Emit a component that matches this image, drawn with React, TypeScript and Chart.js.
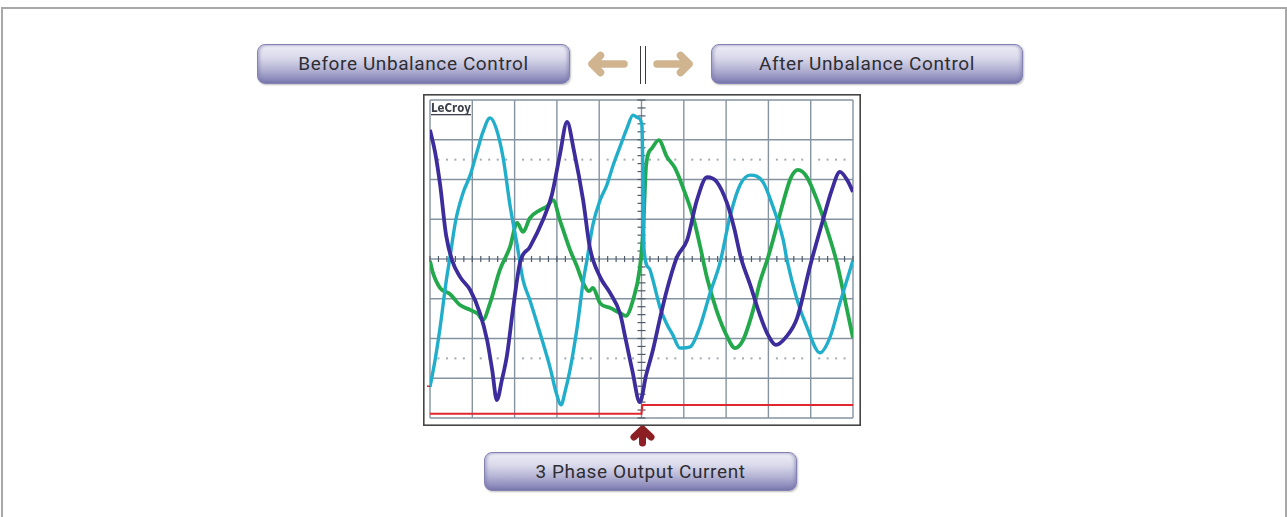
import React, { useEffect, useRef } from "react";
import { Chart, registerables } from "chart.js";

Chart.register(...registerables);

// x: time in scope divisions (0..10), y: amplitude in divisions (-4..4)
const PHASE_A: [number, number][] = [
  [0.0, 3.25], [0.12, 2.69], [0.24, 1.86], [0.38, 0.6], [0.52, -0.03], [0.71, -0.45],
  [0.95, -0.78], [1.18, -1.36], [1.35, -2.04], [1.47, -2.79], [1.58, -3.55], [1.7, -3.04],
  [1.82, -2.42], [1.96, -1.28], [2.13, -0.08], [2.36, 0.3], [2.67, 0.98], [2.88, 1.61],
  [3.07, 2.62], [3.24, 3.45], [3.4, 2.74], [3.62, 1.48], [3.78, 0.28], [4.02, -0.45],
  [4.26, -0.86], [4.49, -1.36], [4.63, -2.04], [4.78, -2.79], [4.96, -3.6], [5.11, -2.92],
  [5.27, -2.29], [5.44, -1.48], [5.6, -0.78], [5.84, 0.05], [6.08, 0.48], [6.31, 1.48],
  [6.55, 2.06], [6.78, 1.94], [7.02, 1.41], [7.19, 0.78], [7.35, 0.03], [7.57, -0.65],
  [7.8, -1.41], [7.99, -1.91], [8.18, -2.16], [8.42, -1.96], [8.68, -1.48], [8.98, -0.2],
  [9.29, 0.98], [9.5, 1.74], [9.69, 2.19], [9.86, 1.99], [10.0, 1.69],
];

const PHASE_B: [number, number][] = [
  [0.0, -3.22], [0.12, -2.54], [0.24, -1.71], [0.38, -0.58], [0.47, 0.03], [0.61, 0.98],
  [0.78, 1.66], [0.95, 2.11], [1.11, 2.69], [1.25, 3.19], [1.42, 3.55], [1.56, 3.3],
  [1.73, 2.54], [1.89, 1.36], [2.06, 0.35], [2.2, -0.53], [2.36, -1.03], [2.6, -1.86],
  [2.84, -2.74], [2.98, -3.35], [3.1, -3.67], [3.19, -3.35], [3.31, -2.79], [3.48, -1.71],
  [3.62, -0.58], [3.71, -0.03], [3.85, 0.86], [4.02, 1.48], [4.18, 1.86], [4.33, 2.36],
  [4.49, 2.82], [4.66, 3.3], [4.8, 3.62], [4.92, 3.55], [5.01, 3.37], [5.04, 1.74],
  [5.06, 0.23], [5.18, -0.23], [5.27, -0.53], [5.44, -1.23], [5.6, -1.64], [5.74, -1.91],
  [5.91, -2.24], [6.15, -2.21], [6.38, -1.71], [6.62, -0.86], [6.86, -0.08], [7.09, 1.06],
  [7.33, 1.86], [7.57, 2.11], [7.87, 1.94], [8.11, 1.31], [8.35, 0.48], [8.44, -0.03],
  [8.68, -1.03], [8.91, -1.71], [9.22, -2.36], [9.46, -1.96], [9.69, -1.11], [10.0, -0.03],
];

const PHASE_C: [number, number][] = [
  [0.0, -0.05], [0.07, -0.35], [0.24, -0.73], [0.47, -0.88], [0.71, -1.16], [0.95, -1.28],
  [1.13, -1.38], [1.25, -1.53], [1.42, -1.11], [1.65, -0.28], [1.89, 0.3], [2.06, 0.91],
  [2.2, 0.68], [2.36, 1.03], [2.6, 1.23], [2.77, 1.33], [2.91, 1.48], [3.07, 0.98],
  [3.31, 0.23], [3.48, -0.2], [3.62, -0.6], [3.76, -0.81], [3.85, -0.73], [4.02, -1.11],
  [4.26, -1.23], [4.49, -1.36], [4.63, -1.43], [4.8, -1.03], [4.96, -0.23], [5.04, 0.73],
  [5.11, 2.36], [5.25, 2.79], [5.41, 2.99], [5.6, 2.57], [5.79, 2.29], [6.0, 1.74],
  [6.22, 1.06], [6.38, 0.35], [6.55, -0.48], [6.78, -1.31], [7.02, -1.94], [7.21, -2.24],
  [7.4, -2.04], [7.64, -1.28], [7.8, -0.58], [7.97, -0.03], [8.11, 0.48], [8.35, 1.43],
  [8.53, 2.04], [8.7, 2.24], [8.91, 2.06], [9.15, 1.48], [9.39, 0.73], [9.62, -0.1],
  [9.81, -1.03], [10.0, -1.99],
];

const CONTROL_SIGNAL: [number, number][] = [
  [0.0, -3.89], [5.0, -3.89], [5.02, -3.67], [10.0, -3.67],
];

const X_DIVS = [0, 10];
const Y_DIVS = [-4, 4];
const SUBDIV = 5;

const COLOR_A = "#3c2c9c";
const COLOR_B = "#20aecb";
const COLOR_C = "#23a84c";
const COLOR_RED = "#e0262e";
const GRID = "#8593a1";

const TOP_LEFT_LABEL = "Before Unbalance Control";
const TOP_RIGHT_LABEL = "After Unbalance Control";
const BOTTOM_LABEL = "3 Phase Output Current";
const BRAND = "LeCroy";

const toPts = (arr: [number, number][]) => arr.map(([x, y]) => ({ x, y }));

const scopePlugin = {
  id: "scopeFace",
  beforeDatasetsDraw(chart: any) {
    const { ctx, chartArea, scales, width, height } = chart;
    const xs = scales.x;
    const ys = scales.y;
    const { left, right, top, bottom } = chartArea;
    ctx.save();
    ctx.fillStyle = "#ffffff";
    ctx.fillRect(0, 0, width, height);
    // outer frame
    ctx.strokeStyle = "#454545";
    ctx.lineWidth = 1.6;
    ctx.strokeRect(0.8, 0.8, width - 1.6, height - 1.6);
    // grid
    ctx.strokeStyle = GRID;
    ctx.lineWidth = 1.4;
    for (let i = X_DIVS[0]; i <= X_DIVS[1]; i++) {
      const px = xs.getPixelForValue(i);
      ctx.beginPath();
      ctx.moveTo(px, top);
      ctx.lineTo(px, bottom);
      ctx.stroke();
    }
    for (let j = Y_DIVS[0]; j <= Y_DIVS[1]; j++) {
      const py = ys.getPixelForValue(j);
      ctx.beginPath();
      ctx.moveTo(left, py);
      ctx.lineTo(right, py);
      ctx.stroke();
    }
    // center ticks
    const cx = xs.getPixelForValue(5);
    const cy = ys.getPixelForValue(0);
    ctx.strokeStyle = "#4f5a66";
    ctx.lineWidth = 1.2;
    for (let k = 0; k <= (X_DIVS[1] - X_DIVS[0]) * SUBDIV; k++) {
      const px = xs.getPixelForValue(X_DIVS[0] + k / SUBDIV);
      ctx.beginPath();
      ctx.moveTo(px, cy - 3);
      ctx.lineTo(px, cy + 3);
      ctx.stroke();
    }
    for (let k = 0; k <= (Y_DIVS[1] - Y_DIVS[0]) * SUBDIV; k++) {
      const py = ys.getPixelForValue(Y_DIVS[0] + k / SUBDIV);
      ctx.beginPath();
      ctx.moveTo(cx - 4, py);
      ctx.lineTo(cx + 4, py);
      ctx.stroke();
    }
    // dotted reference lines
    ctx.fillStyle = "#a3abb3";
    for (const lv of [2.5, -2.5]) {
      const py = ys.getPixelForValue(lv);
      for (let k = 1; k < (X_DIVS[1] - X_DIVS[0]) * SUBDIV; k++) {
        if (k % SUBDIV === 0) continue;
        const px = xs.getPixelForValue(X_DIVS[0] + k / SUBDIV);
        ctx.fillRect(px - 1, py - 1, 2, 2);
      }
    }
    // ground marker
    ctx.strokeStyle = COLOR_RED;
    ctx.lineWidth = 1.5;
    const gy = ys.getPixelForValue(-3.2);
    ctx.beginPath();
    ctx.moveTo(left - 3, gy);
    ctx.lineTo(left, gy);
    ctx.stroke();
    // brand label
    ctx.font = "bold 12.5px 'DejaVu Sans', sans-serif";
    ctx.fillStyle = "#3d424a";
    ctx.textBaseline = "alphabetic";
    const tw0 = ctx.measureText(BRAND).width;
    ctx.save();
    ctx.translate(left + 1, top + 12);
    ctx.scale(40 / tw0, 1);
    ctx.fillText(BRAND, 0, 0);
    ctx.restore();
    ctx.fillRect(left + 1, top + 14, 40, 1.3);
    ctx.restore();
  },
};

function ScopeChart() {
  const ref = useRef<HTMLCanvasElement | null>(null);
  useEffect(() => {
    if (!ref.current) return;
    const common = {
      pointRadius: 0,
      fill: false,
      cubicInterpolationMode: "monotone" as const,
    };
    const chart = new Chart(ref.current, {
      type: "line",
      data: {
        datasets: [
          { ...common, label: "Phase A", data: toPts(PHASE_A), borderColor: COLOR_A, borderWidth: 3.8 },
          { ...common, label: "Phase B", data: toPts(PHASE_B), borderColor: COLOR_B, borderWidth: 3.4 },
          { ...common, label: "Phase C", data: toPts(PHASE_C), borderColor: COLOR_C, borderWidth: 3.8 },
          { ...common, label: "Control", data: toPts(CONTROL_SIGNAL), borderColor: COLOR_RED, borderWidth: 2, cubicInterpolationMode: "default" as const, tension: 0 },
        ],
      },
      options: {
        animation: false,
        responsive: false,
        events: [],
        layout: { padding: { left: 7, top: 6, right: 8, bottom: 8 } },
        scales: {
          x: { type: "linear", min: X_DIVS[0], max: X_DIVS[1], display: false },
          y: { type: "linear", min: Y_DIVS[0], max: Y_DIVS[1], display: false },
        },
        plugins: { legend: { display: false }, tooltip: { enabled: false } },
      },
      plugins: [scopePlugin],
    });
    return () => chart.destroy();
  }, []);
  return (
    <canvas
      ref={ref}
      width={438}
      height={332}
      style={{ position: "absolute", left: 423, top: 94, width: 438, height: 332 }}
    />
  );
}

const buttonStyle = (left: number, top: number, width: number, height: number): React.CSSProperties => ({
  position: "absolute",
  left,
  top,
  width,
  height,
  boxSizing: "border-box",
  borderRadius: 8,
  border: "1px solid #8482b2",
  background:
    "linear-gradient(to bottom, #eeeef7 0%, #d8d8ea 35%, #b3b2d3 65%, #8987b9 92%, #7a78ab 100%)",
  boxShadow: "inset 2px 0 3px rgba(120,118,170,0.45), inset -2px 0 3px rgba(120,118,170,0.45), 1px 1px 2px rgba(0,0,0,0.25)",
  display: "flex",
  alignItems: "center",
  justifyContent: "center",
  fontFamily: "Roboto, 'Noto Sans', sans-serif",
  fontSize: 19,
  color: "#2e2e33",
  letterSpacing: 0.6,
  paddingBottom: 1,
});

export default function App() {
  return (
    <div
      style={{
        position: "fixed",
        left: 0,
        top: 0,
        width: 1287,
        height: 517,
        background: "#ffffff",
        overflow: "hidden",
      }}
    >
      <div
        style={{
          position: "absolute",
          left: 1,
          top: 7,
          width: 1282,
          height: 520,
          borderLeft: "2px solid #a8a8a8",
          borderTop: "2px solid #a8a8a8",
          borderRight: "2px solid #a8a8a8",
        }}
      />
      <div style={buttonStyle(257, 44, 313, 40)}>{TOP_LEFT_LABEL}</div>
      <div style={buttonStyle(711, 44, 312, 40)}>{TOP_RIGHT_LABEL}</div>
      <div style={buttonStyle(484, 452, 313, 39)}>{BOTTOM_LABEL}</div>
      <svg
        width={1287}
        height={517}
        style={{ position: "absolute", left: 0, top: 0, pointerEvents: "none" }}
      >
        <g stroke="#cfb48f" strokeWidth={7.5} strokeLinecap="round" strokeLinejoin="round" fill="none">
          <path d="M624 64 L592 64 M600.5 55.5 L592 64 L600.5 72.5" />
          <path d="M657 64 L689 64 M680.5 55.5 L689 64 L680.5 72.5" />
        </g>
        <g stroke="#3a3a3a" strokeWidth={1}>
          <line x1={640.5} y1={46} x2={640.5} y2={84} />
          <line x1={645.5} y1={46} x2={645.5} y2={84} />
        </g>
        <g stroke="#8b1f24" strokeWidth={7} strokeLinecap="round" strokeLinejoin="round" fill="none">
          <path d="M642.5 430 L642.5 443 M634 437 L642.5 429 L651 437" />
        </g>
      </svg>
      <ScopeChart />
    </div>
  );
}
